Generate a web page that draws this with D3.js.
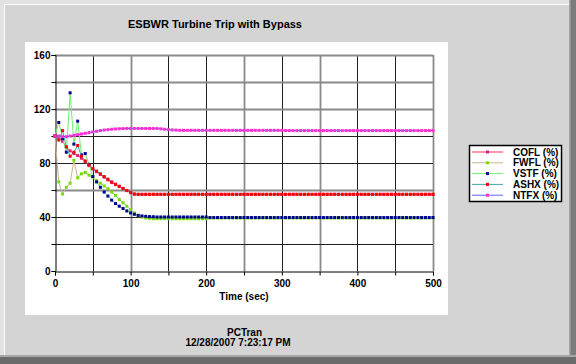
<!DOCTYPE html>
<html><head><meta charset="utf-8">
<script src="https://cdn.jsdelivr.net/npm/d3@7"></script>
<style>html,body{margin:0;padding:0;background:#d4d4d4;}svg{display:block;}text{font-family:"Liberation Sans",Arial,sans-serif;font-weight:bold;fill:#000;}</style>
</head><body><svg id="c" width="576" height="364"></svg>
<script>
const title = "ESBWR Turbine Trip with Bypass";
const xLabel = "Time (sec)";
const footer1 = "PCTran";
const footer2 = "12/28/2007 7:23:17 PM";
const seriesNames = ["COFL (%)","FWFL (%)","VSTF (%)","ASHX (%)","NTFX (%)"];
const xTicks = [0,100,200,300,400,500];
const yTicks = [0,40,80,120,160];
const times = d3.range(0, 501, 5);

const COFL = [100,99,96,92,89,87,85.5,83.5,81,78,
75.5,73.5,71.5,69.5,67.5,65.5,64,62.5,61,59.5,
58,57,
56.8,56.8,56.8,56.8,56.8,56.8,56.8,56.8,56.8,56.8,
56.8,56.8,56.8,56.8,56.8,56.8,56.8,56.8,56.8,56.8,
56.8,56.8,56.8,56.8,56.8,56.8,56.8,56.8,56.8,56.8,
56.8,56.8,56.8,56.8,56.8,56.8,56.8,56.8,56.8,56.8,
56.8,56.8,56.8,56.8,56.8,56.8,56.8,56.8,56.8,56.8,
56.8,56.8,56.8,56.8,56.8,56.8,56.8,56.8,56.8,56.8,
56.8,56.8,56.8,56.8,56.8,56.8,56.8,56.8,56.8,56.8,
56.8,56.8,56.8,56.8,56.8,56.8,56.8,56.8,56.8];

const FWFL = [100,66,57,62,65,82,69,72,73,71,
69.5,67,65,63,61,58.5,56,53,50.5,48,
45.5,43,41,40,39.3,39,
38.7,38.7,38.7,38.7,38.7,38.7,38.7,38.7,38.7,38.7,38.7,38.7,38.7,38.7,38.7,
39.3,39.3,39.3,39.3,39.3,39.3,39.3,39.3,39.3,39.3,
39.3,39.3,39.3,39.3,39.3,39.3,39.3,39.3,39.3,39.3,
39.3,39.3,39.3,39.3,39.3,39.3,39.3,39.3,39.3,39.3,
39.3,39.3,39.3,39.3,39.3,39.3,39.3,39.3,39.3,39.3,
39.3,39.3,39.3,39.3,39.3,39.3,39.3,39.3,39.3,39.3,
39.3,39.3,39.3,39.3,39.3,39.3,39.3,39.3,39.3,39.3];

const VSTF = [100,110,98,88,132,94,111,86,87,79,
70,66,62,58.5,55.5,52.5,50,48,46.3,44.5,
43,42,41.2,40.8,40.5,40.3,40.2,40,40,40,
40,40,40,40,40,40,40,40,40,40,
40,
39.6,39.6,39.6,39.6,39.6,39.6,39.6,39.6,39.6,39.6,
39.6,39.6,39.6,39.6,39.6,39.6,39.6,39.6,39.6,39.6,
39.6,39.6,39.6,39.6,39.6,39.6,39.6,39.6,39.6,39.6,
39.6,39.6,39.6,39.6,39.6,39.6,39.6,39.6,39.6,39.6,
39.6,39.6,39.6,39.6,39.6,39.6,39.6,39.6,39.6,39.6,
39.6,39.6,39.6,39.6,39.6,39.6,39.6,39.6,39.6,39.6];

const ASHX = [100,97,104,92,85,88,93,85,81.5,78.5,
76,74,72,70,68,66,64.3,62.8,61.2,59.7,
58.2,57,
56.8,56.8,56.8,56.8,56.8,56.8,56.8,56.8,56.8,56.8,
56.8,56.8,56.8,56.8,56.8,56.8,56.8,56.8,56.8,56.8,
56.8,56.8,56.8,56.8,56.8,56.8,56.8,56.8,56.8,56.8,
56.8,56.8,56.8,56.8,56.8,56.8,56.8,56.8,56.8,56.8,
56.8,56.8,56.8,56.8,56.8,56.8,56.8,56.8,56.8,56.8,
56.8,56.8,56.8,56.8,56.8,56.8,56.8,56.8,56.8,56.8,
56.8,56.8,56.8,56.8,56.8,56.8,56.8,56.8,56.8,56.8,
56.8,56.8,56.8,56.8,56.8,56.8,56.8,56.8,56.8];

const NTFX = [100,100,99.5,99.5,100,100.5,101,101.5,102,102.5,
103,103.5,104,104.4,104.7,105,105.2,105.4,105.5,105.6,
105.6,105.6,105.6,105.6,105.6,105.6,105.6,105.6,105.3,105,
104.7,104.5,104.4,
104.2,104.2,104.2,104.2,104.2,104.2,104.2,104.2,104.2,104.2,
104.2,104.2,104.2,104.2,104.2,104.2,104.2,104.2,104.2,104.2,
104.2,104.2,104.2,104.2,104.2,104.2,104.2,104.2,
104,104,104,104,104,104,104,104,104,104,
104,104,104,104,104,104,104,104,104,104,
104,104,104,104,104,104,104,104,104,104,
104,104,104,104,104,104,104,104,104,104];

const seriesValues = [COFL, FWFL, VSTF, ASHX, NTFX];
const lineColors = ["#ff3050","#c8b48c","#70f070","#40a8a8","#6060ff"];
const markColors = ["#e02080","#70e000","#000090","#ff0000","#ff30d0"];

const svg = d3.select("#c");
// frame
svg.append("rect").attr("width",576).attr("height",364).attr("fill","#e2e2e2");
svg.append("rect").attr("x",4).attr("y",4).attr("width",566).attr("height",352).attr("fill","#d4d4d4");
svg.append("line").attr("x1",4).attr("y1",4.5).attr("x2",569).attr("y2",4.5).attr("stroke","#fff");
svg.append("line").attr("x1",4.5).attr("y1",4).attr("x2",4.5).attr("y2",355).attr("stroke","#fff");
svg.append("rect").attr("x",569).attr("y",0).attr("width",7).attr("height",364).attr("fill","#7c7c7c");
svg.append("rect").attr("x",0).attr("y",355).attr("width",576).attr("height",9).attr("fill","#6c6c6c");
svg.append("rect").attr("x",0).attr("y",355).attr("width",576).attr("height",2).attr("fill","#a8a8a8");
svg.append("rect").attr("x",569).attr("y",0).attr("width",1.5).attr("height",357).attr("fill","#a8a8a8");
// white panel
svg.append("rect").attr("x",25).attr("y",42).attr("width",423).attr("height",273).attr("fill","#fff");

svg.append("text").attr("x",215).attr("y",28).attr("text-anchor","middle").attr("font-size",11).text(title);

const x = d3.scaleLinear().domain([0,500]).range([55,433]);
const y = d3.scaleLinear().domain([0,160]).range([271,55]);

// grid
const vGray = [100,250,350,500];
const hGray = [160,140,120,60];
const g = svg.append("g");
d3.range(50,501,50).forEach(v=>{
  const gray = vGray.includes(v);
  g.append("line").attr("x1",Math.round(x(v))+0.5).attr("x2",Math.round(x(v))+0.5).attr("y1",55).attr("y2",271)
   .attr("stroke",gray?"#8a8a8a":"#202020").attr("stroke-width",gray?1.8:1);
});
d3.range(20,161,20).forEach(v=>{
  const gray = hGray.includes(v);
  g.append("line").attr("y1",Math.round(y(v))+0.5).attr("y2",Math.round(y(v))+0.5).attr("x1",55).attr("x2",433)
   .attr("stroke",gray?"#8a8a8a":"#202020").attr("stroke-width",gray?1.8:1);
});

// axes
const yAxis = d3.axisLeft(y).tickValues(d3.range(0,161,20)).tickSize(4).tickFormat(d=>yTicks.includes(d)?d:"");
const ya = svg.append("g").attr("transform","translate(55.5,0)").call(yAxis);
const xAxis = d3.axisBottom(x).tickValues(d3.range(0,501,50)).tickSize(4).tickFormat(d=>xTicks.includes(d)?d:"");
const xa = svg.append("g").attr("transform","translate(0,271.5)").call(xAxis);
[ya,xa].forEach(a=>{
  a.select(".domain").attr("stroke","#000");
  a.selectAll(".tick line").attr("stroke","#000");
  a.selectAll("text").attr("font-size",10).attr("font-family","Liberation Sans, Arial, sans-serif").attr("font-weight","bold").attr("fill","#000");
});
ya.selectAll("text").attr("x",-5);
xa.selectAll("text").attr("y",8);

svg.append("text").attr("x",244).attr("y",300).attr("text-anchor","middle").attr("font-size",10).text(xLabel);
svg.append("text").attr("x",244.5).attr("y",336).attr("text-anchor","middle").attr("font-size",10).text(footer1);
svg.append("text").attr("x",238).attr("y",346).attr("text-anchor","middle").attr("font-size",10).text(footer2);

// series
const line = d3.line().x((d,i)=>x(times[i])).y(d=>y(d));
seriesValues.forEach((vals,si)=>{
  svg.append("path").attr("d",line(vals)).attr("fill","none").attr("stroke",lineColors[si]).attr("stroke-width",1);
  svg.append("g").selectAll("rect").data(vals).join("rect")
    .attr("x",(d,i)=>x(times[i])-1.5).attr("y",d=>y(d)-1.5).attr("width",3).attr("height",3)
    .attr("fill",markColors[si]);
});

// legend
const lg = svg.append("g");
lg.append("rect").attr("x",469.5).attr("y",145.5).attr("width",92).attr("height",56).attr("fill","#fff").attr("stroke","#000").attr("stroke-width",1.5);
seriesNames.forEach((n,i)=>{
  const yy = 152 + i*10.8;
  lg.append("line").attr("x1",472).attr("x2",503).attr("y1",yy).attr("y2",yy).attr("stroke",lineColors[i]);
  lg.append("rect").attr("x",486).attr("y",yy-1.5).attr("width",3).attr("height",3).attr("fill",markColors[i]);
  lg.append("text").attr("x",513).attr("y",yy+3.5).attr("font-size",10).text(n);
});
</script></body></html>
